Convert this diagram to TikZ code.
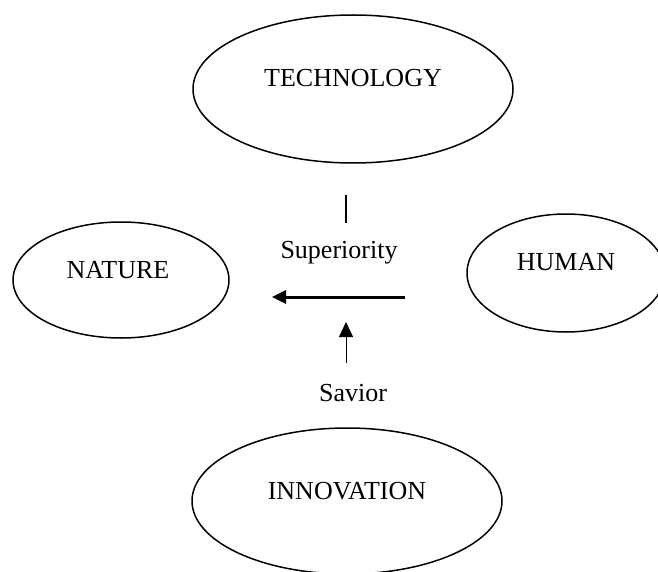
\documentclass[tikz,border=0pt]{standalone}
\usepackage{fontspec}
\setmainfont{Liberation Serif}
\usetikzlibrary{shapes.geometric,arrows.meta}
\begin{document}
\begin{tikzpicture}[x=1pt,y=-1pt,
    oval/.style={draw,ellipse,line width=1.5pt,inner sep=0pt},
    word/.style={font=\fontsize{26}{30}\selectfont,inner sep=0pt}]
      \useasboundingbox (0,0) rectangle (658,572);
      \node[oval,minimum width=320pt,minimum height=148pt] (tech) at (353,89) {};
      \node[oval,minimum width=216pt,minimum height=116pt] (nature) at (121,280) {};
      \node[oval,minimum width=198pt,minimum height=118pt] (human) at (566,273) {};
      \node[oval,minimum width=310pt,minimum height=146pt] (innov) at (347,501) {};
      \draw
        (353,78) node[word] (techtext){TECHNOLOGY}
        (118,270) node[word] (naturetext){NATURE}
        (566,262) node[word] (humantext){HUMAN}
        (347,491) node[word] (innovtext){INNOVATION}
        (339,253) node[word] (sup){Superiority}
        (353,393) node[word] (sav){Savior};
      \coordinate (tickA) at (346,195);
      \coordinate (tickB) at (346,223);
      \coordinate (supR) at (405,297);
      \coordinate (supL) at (272,297);
      \coordinate (savB) at (346,363);
      \coordinate (savT) at (346,322);
      \begin{scope}[line cap=butt]
        \draw[line width=2pt] (tickA) to (tickB);
        \draw[line width=3pt,-{Triangle[length=14pt,width=13pt]}] (supR) to (supL);
        \draw[line width=1pt,-{Triangle[length=15pt,width=14pt]}] (savB) to (savT);
      \end{scope}
    \end{tikzpicture}
\end{document}
